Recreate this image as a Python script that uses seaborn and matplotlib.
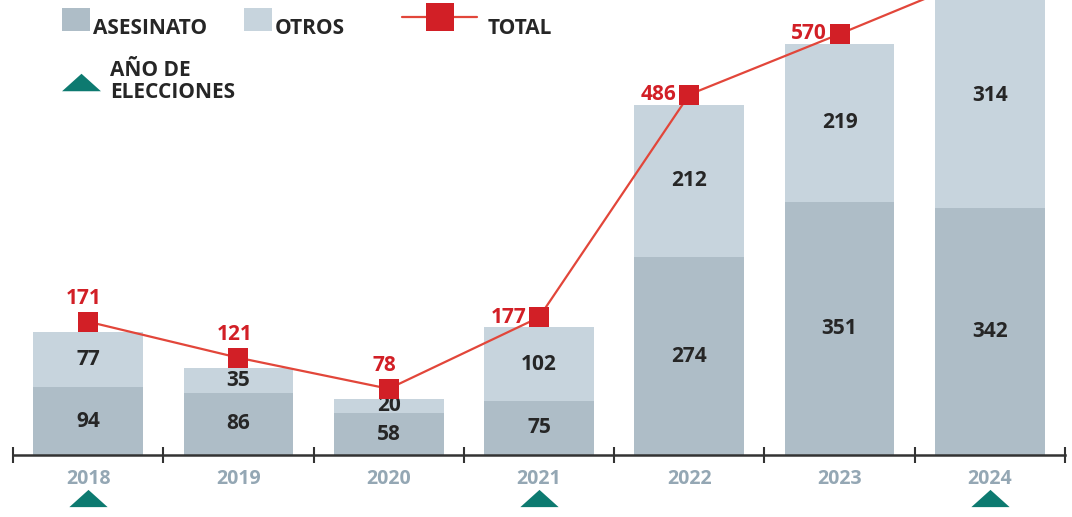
import numpy as np
import pandas as pd
import seaborn as sns
import matplotlib.pyplot as plt
from matplotlib.patches import Patch
from matplotlib.lines import Line2D
from matplotlib.transforms import offset_copy

# datos
years = ['2018', '2019', '2020', '2021', '2022', '2023', '2024']
asesinato = [94, 86, 58, 75, 274, 351, 342]
otros = [77, 35, 20, 102, 212, 219, 314]
elecciones = ['2018', '2021', '2024']

total = [a + o for a, o in zip(asesinato, otros)]
df = pd.DataFrame({'year': years, 'asesinato': asesinato, 'otros': otros, 'total': total})

c_ases = '#aebdc7'
c_otros = '#c7d4dd'
c_red = '#d21f26'
c_line = '#e2463a'
c_green = '#0d7a70'
c_year = '#94a7b4'
c_text = '#262626'

sns.set_theme(style='white')
plt.rcParams['font.family'] = ['Open Sans', 'DejaVu Sans']

fig = plt.figure(figsize=(10.72, 5.17), dpi=100)
ax = fig.add_axes([13 / 1072, 62 / 517, 1052 / 1072, 455 / 517])

# barras apiladas: total (otros) detras, asesinato delante
sns.barplot(data=df, x='year', y='total', color=c_otros, width=0.73,
            saturation=1, linewidth=0, ax=ax, zorder=1)
sns.barplot(data=df, x='year', y='asesinato', color=c_ases, width=0.73,
            saturation=1, linewidth=0, ax=ax, zorder=2)

xs = np.arange(len(years))
for i in xs:
    ax.text(i, asesinato[i] / 2, str(asesinato[i]), ha='center', va='center',
            fontsize=15, fontweight='bold', color=c_text, zorder=3)
    ax.text(i, asesinato[i] + otros[i] / 2, str(otros[i]), ha='center', va='center',
            fontsize=15, fontweight='bold', color=c_text, zorder=3)

# linea total (un poco por encima de las barras, como en el original)
up = offset_copy(ax.transData, fig=fig, x=0, y=10, units='dots')
ax.plot(xs, total, color=c_line, lw=1.6, zorder=5, transform=up)
ax.plot(xs, total, ls='none', marker='s', markersize=14, color=c_red,
        markeredgewidth=0, zorder=6, transform=up)
for i in xs:
    if i < 3:
        ax.annotate(str(total[i]), (i, total[i]), xycoords=up, xytext=(-3, 9),
                    textcoords='offset points', ha='center', va='bottom', fontsize=15,
                    fontweight='bold', color=c_red, zorder=4, annotation_clip=True)
    else:
        ax.annotate(str(total[i]), (i, total[i]), xycoords=up, xytext=(-9, 0),
                    textcoords='offset points', ha='right', va='center', fontsize=15,
                    fontweight='bold', color=c_red, zorder=4, annotation_clip=True)

# triangulos de elecciones
tri = [(-1, -0.45), (1, -0.45), (0, 0.45)]
ex = [years.index(y) for y in elecciones]
ax.scatter(ex, [-0.095] * len(ex), marker=tri, s=760, color=c_green,
           transform=ax.get_xaxis_transform(), clip_on=False, zorder=6, linewidths=0)

ax.set_xlim(-0.5, 6.5)
ax.set_ylim(0, 631)
ax.set_xlabel('')
ax.set_ylabel('')
ax.set_yticks([])
for s in ['top', 'right', 'left']:
    ax.spines[s].set_visible(False)
ax.spines['bottom'].set_color('#333333')
ax.spines['bottom'].set_linewidth(1.8)
ax.set_xticks(xs)
ax.set_xticklabels(years, fontsize=14, fontweight='bold', color=c_year)
ax.tick_params(axis='x', which='major', length=0, pad=10)
ax.set_xticks(np.arange(-0.5, 7, 1), minor=True)
ax.tick_params(axis='x', which='minor', length=11, width=1.5, direction='inout',
               color='#333333', bottom=True)

# leyendas
leg_kw = dict(frameon=False, borderpad=0, borderaxespad=0,
              prop={'weight': 'bold', 'size': 15}, labelcolor=c_text)
h1 = [Patch(facecolor=c_ases, edgecolor='none'), Patch(facecolor=c_otros, edgecolor='none')]
l1 = fig.legend(h1, ['ASESINATO', 'OTROS'], loc='upper left', ncol=2,
                bbox_to_anchor=(62 / 1072, 1 - 8 / 517), handlelength=1.35,
                handleheight=1.35, handletextpad=0.15, columnspacing=1.75, **leg_kw)
h2 = [Line2D([], [], color=c_line, lw=1.6, marker='s', markersize=20,
             markerfacecolor=c_red, markeredgewidth=0)]
l2 = fig.legend(h2, ['TOTAL'], loc='upper left', bbox_to_anchor=(402 / 1072, 1 - 8 / 517),
                handlelength=3.6, handleheight=1.35, handletextpad=0.5, **leg_kw)
h3 = [Line2D([], [], lw=0, marker=tri, markersize=28, color=c_green, markeredgewidth=0)]
l3 = fig.legend(h3, ['AÑO DE\nELECCIONES'], loc='upper left',
                bbox_to_anchor=(62 / 1072, 1 - 60 / 517), handlelength=1.85,
                handletextpad=0.45, **leg_kw)
for lg in (l1, l2):
    for t in lg.get_texts():
        t.set_position((0, -7))
for t in l3.get_texts():
    t.set_linespacing(1.05)

fig.savefig('out.png', dpi=100)
